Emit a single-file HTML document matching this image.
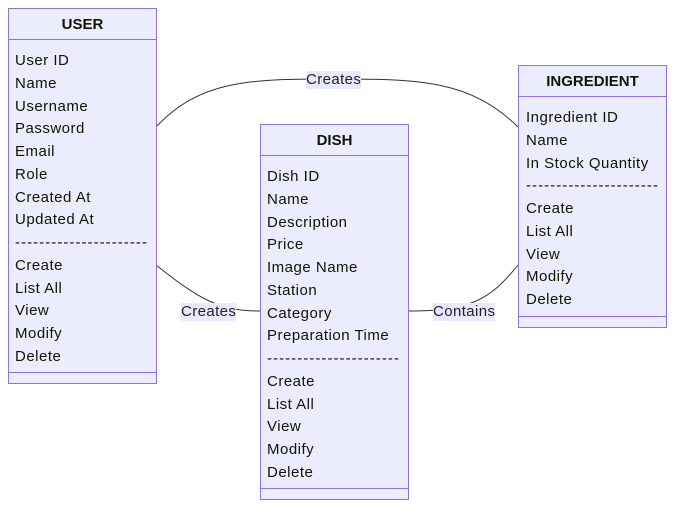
<!DOCTYPE html>
<html><head><meta charset="utf-8"><style>
body{margin:0;background:#fff;width:683px;height:514px;overflow:hidden;position:relative;font-family:"Liberation Sans","DejaVu Sans",sans-serif;}
.box{position:absolute;background:#ECECFF;border:1px solid #9370DB;box-sizing:border-box;}
.h{position:absolute;left:0;right:0;top:0;height:30px;border-bottom:1px solid #9370DB;text-align:center;font-weight:bold;font-size:15px;line-height:32px;color:#131300;}
.f{position:absolute;left:0;right:0;bottom:10px;border-top:1px solid #9370DB;}
.t{position:absolute;left:7px;font-size:15px;letter-spacing:0.5px;color:#131300;white-space:nowrap;line-height:18px;}
.lb{position:absolute;background:#E8E8FF;font-size:15px;letter-spacing:0.4px;line-height:18px;color:#222;white-space:nowrap;}
svg{position:absolute;left:0;top:0;}
</style></head><body>
<svg width="683" height="514"><g fill="none" stroke="#333" stroke-width="1">
<path d="M156,127 C200,80 250,79 333,79 C420,79 470,80 518,127"/>
<path d="M156,265 C200,300 220,311 260,311"/>
<path d="M408,311 C470,311 490,300 518,265"/>
</g></svg>
<div class="box" style="left:8px;top:8px;width:149px;height:376px"><div class="h">USER</div><div class="f"></div></div>
<div class="box" style="left:260px;top:124px;width:149px;height:376px"><div class="h">DISH</div><div class="f"></div></div>
<div class="box" style="left:518px;top:65px;width:149px;height:263px"><div class="h">INGREDIENT</div><div class="f"></div></div>
<script>
function col(x,y,items){items.forEach((s,i)=>{var d=document.createElement('div');d.className='t';d.style.left=x+'px';d.style.top=(y+i*22.75-7)+'px';d.textContent=s;if(s[0]=='-')d.style.letterSpacing='1.05px';document.body.appendChild(d);});}
var D='----------------------';
col(15,59,['User ID','Name','Username','Password','Email','Role','Created At','Updated At',D,'Create','List All','View','Modify','Delete']);
col(267,175,['Dish ID','Name','Description','Price','Image Name','Station','Category','Preparation Time',D,'Create','List All','View','Modify','Delete']);
col(526,116,['Ingredient ID','Name','In Stock Quantity',D,'Create','List All','View','Modify','Delete']);
</script>
<div class="lb" style="left:306px;top:71px">Creates</div>
<div class="lb" style="left:181px;top:303px">Creates</div>
<div class="lb" style="left:433px;top:303px">Contains</div>
</body></html>
